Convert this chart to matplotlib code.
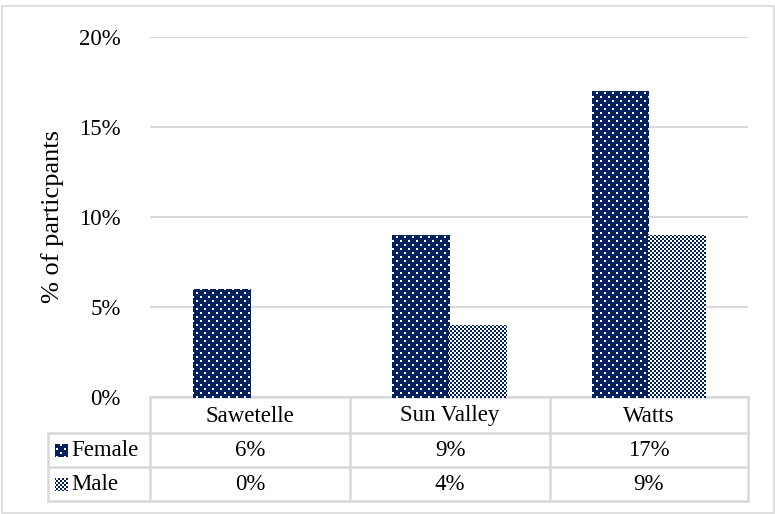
import matplotlib
matplotlib.use("Agg")
import matplotlib.pyplot as plt
from matplotlib.patches import Rectangle
from matplotlib.lines import Line2D
from matplotlib.colors import to_rgba
import numpy as np

categories = ["Sawetelle", "Sun Valley", "Watts"]
series_names = ["Female", "Male"]
female = [6, 9, 17]
male = [0, 4, 9]
yticks = [0, 5, 10, 15, 20]

NAVY = "#002060"
GRID = "#D9D9D9"
W, H = 775, 514
FS = 16.5

plt.rcParams["font.family"] = ["Liberation Serif", "DejaVu Serif"]

fig = plt.figure(figsize=(W / 100, H / 100), dpi=100)

def fx(px):
    return px / W

def fy(py):
    return 1 - py / H

# pixel textures (Excel-like pattern fills)
yy, xx = np.mgrid[0:H, 0:W]
navy = np.array(to_rgba(NAVY))
white = np.array(to_rgba("white"))
fem_white = ((yy % 4) < 2) & (((xx + ((yy // 4) % 2) * 4) % 8) < 2)
tex_f = np.where(fem_white[..., None], white, navy)
mal_navy = (((xx // 2) + (yy // 2)) % 2) == 0
tex_m = np.where(mal_navy[..., None], navy, white)

def texture(patch, tex):
    im = fig.figimage(tex, 0, 0, origin="upper", zorder=5)
    im.set_clip_path(patch)

# outer border
fig.add_artist(Rectangle((fx(2), fy(513)), fx(772), 507 / H,
                         transform=fig.transFigure, fill=False,
                         edgecolor=GRID, linewidth=1.2))

L, R, T, B = 150, 748, 37, 397
ax = fig.add_axes([fx(L), fy(B), fx(R - L), (B - T) / H])

x = np.arange(len(categories))
bw = 0.285
b1 = ax.bar(x - bw / 2, female, bw, color=NAVY, linewidth=0, zorder=3)
b2 = ax.bar(x + bw / 2, male, bw, color="white", linewidth=0, zorder=3)
for p, v in zip(b1, female):
    if v > 0:
        texture(p, tex_f)
for p, v in zip(b2, male):
    if v > 0:
        texture(p, tex_m)

ax.set_xlim(-0.5, len(categories) - 0.5)
ax.set_ylim(0, 20)
ax.set_yticks(yticks)
ax.set_yticklabels([f"{v}%" for v in yticks], fontsize=FS)
ax.tick_params(axis="y", length=0, pad=21)
ax.set_xticks([])
for s in ax.spines.values():
    s.set_visible(False)
ax.yaxis.grid(True, color=GRID, linewidth=1.5, zorder=0)
ax.set_axisbelow(True)

fig.text(fx(53), fy(216), "% of particpants", rotation=90, fontsize=19,
         ha="center", va="center")

# data table
rows = [397, 433, 467, 501]
colx = [150, 350, 550, 748]
lk = dict(color=GRID, linewidth=1.8, transform=fig.transFigure)
fig.add_artist(Line2D([fx(150), fx(748)], [fy(397), fy(397)], **lk))
for ry in rows[1:]:
    fig.add_artist(Line2D([fx(48), fx(748)], [fy(ry), fy(ry)], **lk))
for cx in colx:
    fig.add_artist(Line2D([fx(cx), fx(cx)], [fy(397), fy(501)], **lk))
fig.add_artist(Line2D([fx(48), fx(48)], [fy(433), fy(501)], **lk))

for i, c in enumerate(categories):
    cx = (colx[i] + colx[i + 1]) / 2
    fig.text(fx(cx), fy((397 + 433) / 2 + 1), c, fontsize=FS, ha="center", va="center")
    fig.text(fx(cx), fy((433 + 467) / 2 + 1), f"{female[i]}%", fontsize=FS,
             ha="center", va="center")
    fig.text(fx(cx), fy((467 + 501) / 2 + 1), f"{male[i]}%", fontsize=FS,
             ha="center", va="center")

textures = [tex_f, tex_m]
for j, name in enumerate(series_names):
    ymid = (rows[j + 1] + rows[j + 2]) / 2
    r = Rectangle((fx(55), fy(ymid + 6)), fx(12), 12 / H,
                  transform=fig.transFigure, facecolor="none", linewidth=0)
    fig.add_artist(r)
    texture(r, textures[j])
    fig.text(fx(71), fy(ymid + 1), name, fontsize=FS, ha="left", va="center")

fig.savefig("out.png", dpi=100)
